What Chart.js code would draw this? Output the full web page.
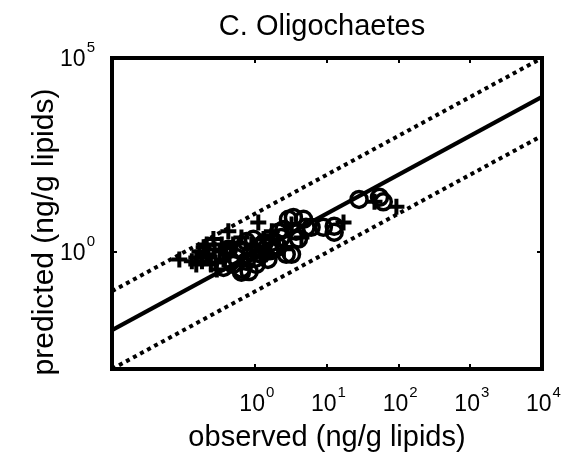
<!DOCTYPE html>
<html><head><meta charset="utf-8">
<script src="https://cdn.jsdelivr.net/npm/chart.js@4"></script>
<style>html,body{margin:0;padding:0;background:#fff}#wrap{width:561px;height:459px}</style>
</head><body><div id="wrap"><canvas id="c" width="561" height="459"></canvas></div>
<script>
const chartTitle = 'C. Oligochaetes';
const xLabel = 'observed (ng/g lipids)';
const yLabel = 'predicted (ng/g lipids)';

// '+' series
const plusObserved  = [0.087,0.15,0.18,0.21,0.24,0.19,0.26,0.32,0.36,0.42,0.49,0.64,1.1,1.3,1.7,2.5,4.4,17,46,93,0.13,0.29,0.88,1.4,3.2,0.166,0.22,0.27,0.34,0.39,0.15,0.21,0.28,0.45];
const plusPredicted = [0.66,0.74,0.59,0.89,0.49,1.35,2.2,1.06,0.66,3.5,1.6,2.4,5.9,2.2,3.5,1.2,2.4,5.9,20,15,0.59,0.36,1.6,0.89,5.2,1.06,0.74,1.19,1.6,0.89,0.49,1.6,0.55,1.3];

// 'o' series
const circleObserved  = [0.42,0.64,0.75,0.88,1.34,1.5,2.1,2.9,3.2,2.5,3.4,4.7,4.0,2.1,8.9,12.6,12.6,28,54,61,0.54,1.03,1.14,1.8,6.0,0.75,0.49,0.46,0.60,0.94,1.21,1.67,2.3,2.7,3.7,5.1,0.82,0.36,0.64,1.0,1.6];
const circlePredicted = [1.2,0.37,0.59,1.0,1.8,0.66,3.3,7.1,0.89,3.9,7.9,7.1,2.2,1.4,4.4,4.7,3.3,23,26,20,0.74,0.49,1.35,1.2,4.4,1.9,0.49,0.59,1.19,2.16,0.89,1.8,2.4,0.89,3.5,4.4,0.32,0.41,0.31,0.7,1.1];

// reference lines: 1:1 and factor-of-10 bands
const lineObserved = [0.01, 10000];
const bandFactor = 10;

// axis range and ticks
const xMin = 0.01, xMax = 10000;
const yMin = 0.001, yMax = 100000;
const xTickValues = [1, 10, 100, 1000, 10000];
const xTickExps = ['0', '1', '2', '3', '4'];
const xTickMarks = [1, 10, 100, 1000];
const yTickValues = [1, 100000];
const yTickExps = ['0', '5'];
const yTickMarks = [1];

const pts = (xs, ys) => xs.map((x, i) => ({x: x, y: ys[i]}));

const FONT = '"Liberation Sans", Arial, Helvetica, sans-serif';

const decor = {
  id: 'decor',
  afterDraw(chart) {
    const ctx = chart.ctx, a = chart.chartArea;
    const xs = chart.scales.x, ys = chart.scales.y;
    ctx.save();
    ctx.strokeStyle = '#000';
    ctx.fillStyle = '#000';
    // box
    ctx.lineWidth = 4;
    ctx.strokeRect(a.left, a.top, a.right - a.left, a.bottom - a.top);
    // tick marks (inward)
    ctx.lineWidth = 2;
    const tl = 5;
    xTickMarks.forEach(v => {
      const px = Math.round(xs.getPixelForValue(v));
      ctx.beginPath();
      ctx.moveTo(px, a.bottom); ctx.lineTo(px, a.bottom - tl);
      ctx.moveTo(px, a.top); ctx.lineTo(px, a.top + tl);
      ctx.stroke();
    });
    yTickMarks.forEach(v => {
      const py = Math.round(ys.getPixelForValue(v));
      ctx.beginPath();
      ctx.moveTo(a.left, py); ctx.lineTo(a.left + tl, py);
      ctx.moveTo(a.right, py); ctx.lineTo(a.right - tl, py);
      ctx.stroke();
    });
    // tick labels with exponents
    const baseF = '23px ' + FONT, expF = '15px ' + FONT;
    ctx.textBaseline = 'alphabetic';
    ctx.textAlign = 'left';
    xTickValues.forEach((v, i) => {
      const px = xs.getPixelForValue(v);
      ctx.font = baseF; const w1 = ctx.measureText('10').width;
      ctx.font = expF; const w2 = ctx.measureText(xTickExps[i]).width;
      const x0 = px - (w1 + w2) / 2 + 1;
      const base = a.bottom + 42;
      ctx.font = baseF; ctx.fillText('10', x0, base);
      ctx.font = expF; ctx.fillText(xTickExps[i], x0 + w1 + 1, base - 14);
    });
    yTickValues.forEach((v, i) => {
      const py = ys.getPixelForValue(v);
      ctx.font = baseF; const w1 = ctx.measureText('10').width;
      ctx.font = expF; const w2 = ctx.measureText(yTickExps[i]).width;
      const xr = a.left - 17;
      const x0 = xr - w1 - w2 - 1;
      const base = py + 8;
      ctx.font = baseF; ctx.fillText('10', x0, base);
      ctx.font = expF; ctx.fillText(yTickExps[i], x0 + w1 + 1, base - 14);
    });
    // titles
    ctx.font = '29px ' + FONT;
    ctx.textAlign = 'center';
    ctx.fillText(chartTitle, 322, 35);
    ctx.fillText(xLabel, (a.left + a.right) / 2, 446);
    ctx.save();
    ctx.translate(53, 232);
    ctx.rotate(-Math.PI / 2);
    ctx.font = '30px ' + FONT;
    ctx.fillText(yLabel, 0, 0);
    ctx.restore();
    ctx.restore();
  }
};

new Chart(document.getElementById('c'), {
  type: 'scatter',
  data: {
    datasets: [
      { label: 'plus', data: pts(plusObserved, plusPredicted), pointStyle: 'cross', pointRadius: 8, pointBorderWidth: 4, borderColor: '#000', backgroundColor: 'transparent', pointHoverRadius: 8 },
      { label: 'circle', data: pts(circleObserved, circlePredicted), pointStyle: 'circle', pointRadius: 8, pointBorderWidth: 3.5, borderColor: '#000', backgroundColor: 'transparent', pointHoverRadius: 8 },
      { label: '1:1', data: pts(lineObserved, lineObserved), showLine: true, pointRadius: 0, borderColor: '#000', borderWidth: 4 },
      { label: 'upper', data: pts(lineObserved, lineObserved.map(v => v * bandFactor)), showLine: true, pointRadius: 0, borderColor: '#000', borderWidth: 4, borderDash: [4, 4], borderCapStyle: 'butt' },
      { label: 'lower', data: pts(lineObserved, lineObserved.map(v => v / bandFactor)), showLine: true, pointRadius: 0, borderColor: '#000', borderWidth: 4, borderDash: [4, 4], borderCapStyle: 'butt' }
    ]
  },
  options: {
    responsive: false,
    animation: false,
    devicePixelRatio: 1,
    layout: { padding: { left: 112, right: 19, top: 58, bottom: 90 } },
    scales: {
      x: { type: 'logarithmic', min: xMin, max: xMax, display: false },
      y: { type: 'logarithmic', min: yMin, max: yMax, display: false }
    },
    plugins: { legend: { display: false }, tooltip: { enabled: false }, title: { display: false } },
    events: []
  },
  plugins: [decor]
});
</script>
</body></html>
